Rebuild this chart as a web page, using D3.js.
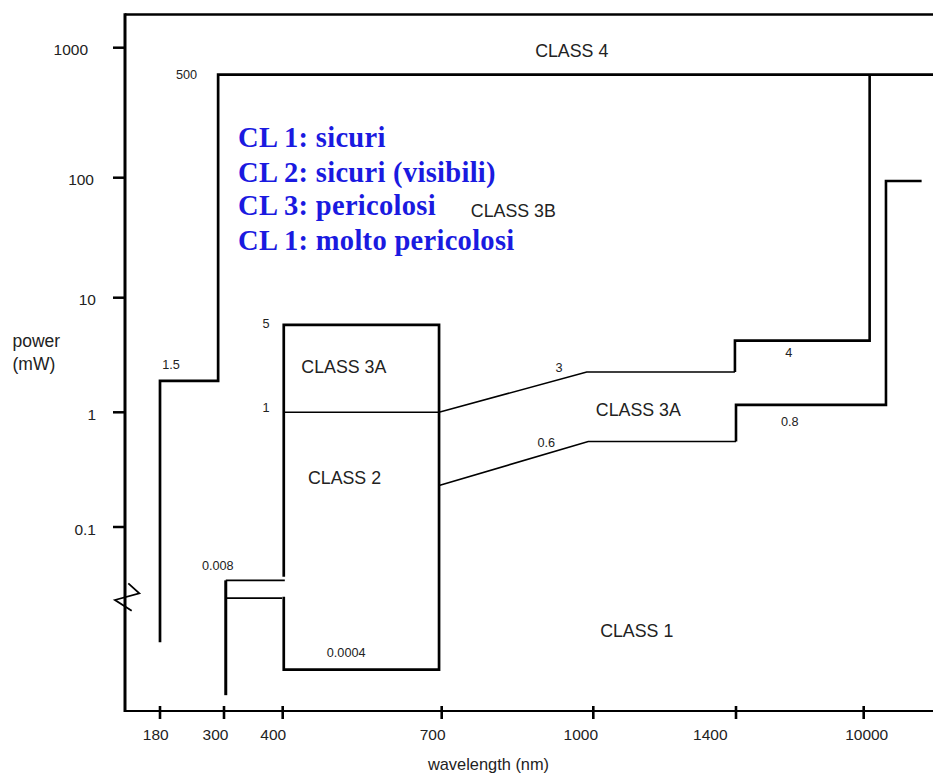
<!DOCTYPE html>
<html>
<head>
<meta charset="utf-8">
<script src="https://cdn.jsdelivr.net/npm/d3@7"></script>
<style>
  html, body { margin: 0; padding: 0; background: #fff; }
  svg { display: block; }
</style>
</head>
<body>
<script>
// ---------------- DATA ----------------
// axis ticks
const wavelengthTicks = [180, 300, 400, 700, 1000, 1400, 10000];   // nm
const powerTicks = [1000, 100, 10, 1, 0.1];                        // mW
const powerTickLabels = ["1000", "100", "10", "1", "0.1"];
const powerTop = 1800;          // top of the plotted range (mW)
const powerBottom = 0.0001;     // bottom of the plotted range (mW, below axis break)

// class boundary lines: [wavelength nm, power mW]
const uvEdge        = [[180, 0.001], [180, 1.88], [289, 1.88], [289, 620], [15000, 620]];
const uvLowVertical = [[303, 0.00017], [303, 0.008]];
const uvLowUpper    = [[303, 0.008], [404, 0.008]];
const uvLowLower    = [[303, 0.0044], [399, 0.0044]];
const visibleBox    = [[402, 0.009], [402, 5.8], [695, 5.8], [695, 0.0004], [402, 0.0004], [402, 0.0046]];
const class2Top     = [[402, 1], [695, 1], [987, 2.25], [1397, 2.25]];
const class3bLower  = [[1397, 2.25], [1397, 4.22], [10400, 4.22], [10400, 620]];
const class1Top     = [[695, 0.23], [990, 0.556], [1400, 0.556]];
const class1TopIR   = [[1400, 0.556], [1400, 1.16], [11500, 1.16], [11500, 94], [13900, 94]];

// value annotations
const limitLabels = ["500", "1.5", "5", "1", "0.008", "0.0004", "3", "0.6", "4", "0.8"];
// class names
const classLabels = ["CLASS 4", "CLASS 3B", "CLASS 3A", "CLASS 2", "CLASS 3A", "CLASS 1"];
// legend lines
const legendLines = ["CL 1: sicuri", "CL 2: sicuri (visibili)", "CL 3: pericolosi", "CL 1: molto pericolosi"];

// ---------------- LAYOUT ----------------
const W = 933, H = 776;
const axisLeft = 125, axisRight = 933;
const xTickPx = [160, 224, 282.7, 441.7, 593.3, 736, 863.7];
const yTickPx = [711, 573.7, 527, 412.3, 297.7, 177.7, 47.7];
const xLabelShift = [-4.2, -8.5, -9.4, -9, -12.5, -25.7, 3];
const yLabelShift = [-8, -2, 0, 0, 0];
const limitLabelPos = [[186.5, 79], [171, 369], [266, 328], [266, 412], [217.8, 570],
                       [346.2, 657], [559, 372], [546.2, 447], [788.8, 357], [789.7, 426]];
const classLabelPos = [[571.7, 57.3], [513.3, 217], [343.8, 373], [344.5, 484], [638.3, 416], [636.7, 637]];
const legendBaselines = [146.7, 181.7, 215, 250];

const sans = "'Liberation Sans', Arial, Helvetica, sans-serif";
const serif = "'Liberation Serif', 'Times New Roman', serif";
const textCol = "#222";

// ---------------- SCALES ----------------
const x = d3.scaleLinear().domain(wavelengthTicks).range(xTickPx);
const y = d3.scaleLog()
  .domain([powerBottom, 0.01, 0.1, 1, 10, 100, 1000])
  .range(yTickPx);

const svg = d3.select("body").append("svg")
  .attr("width", W).attr("height", H)
  .style("background", "#fff");

const line = d3.line().x(d => x(d[0])).y(d => y(d[1]));

// ---------------- FRAME / AXES ----------------
const yTopPx = y(powerTop), yBotPx = y(powerBottom);
svg.append("line").attr("x1", axisLeft).attr("x2", axisRight)
  .attr("y1", yTopPx).attr("y2", yTopPx)
  .attr("stroke", "#000").attr("stroke-width", 2.7);
svg.append("line").attr("x1", axisLeft).attr("x2", axisLeft)
  .attr("y1", yTopPx - 1.3).attr("y2", yBotPx + 1)
  .attr("stroke", "#000").attr("stroke-width", 3);
svg.append("line").attr("x1", axisLeft).attr("x2", axisRight)
  .attr("y1", yBotPx).attr("y2", yBotPx)
  .attr("stroke", "#000").attr("stroke-width", 2.2);

// y ticks
svg.append("g").selectAll("line").data(powerTicks).join("line")
  .attr("x1", axisLeft - 12).attr("x2", axisLeft)
  .attr("y1", d => y(d)).attr("y2", d => y(d))
  .attr("stroke", "#000").attr("stroke-width", 2.5);
svg.append("g").selectAll("text").data(powerTicks).join("text")
  .attr("x", (d, i) => 96 + yLabelShift[i])
  .attr("y", d => y(d) + 7.5)
  .attr("text-anchor", "end")
  .attr("font-family", sans).attr("font-size", 15.5).attr("fill", textCol)
  .text((d, i) => powerTickLabels[i]);

// x ticks
svg.append("g").selectAll("line").data(wavelengthTicks).join("line")
  .attr("x1", d => x(d)).attr("x2", d => x(d))
  .attr("y1", yBotPx - 5).attr("y2", yBotPx + 8)
  .attr("stroke", "#000").attr("stroke-width", 2.6);
svg.append("g").selectAll("text").data(wavelengthTicks).join("text")
  .attr("x", (d, i) => x(d) + xLabelShift[i])
  .attr("y", 740)
  .attr("text-anchor", "middle")
  .attr("font-family", sans).attr("font-size", 15.5).attr("fill", textCol)
  .text(d => String(d));

// axis titles
svg.append("text").attr("x", 488.5).attr("y", 770).attr("text-anchor", "middle")
  .attr("font-family", sans).attr("font-size", 16.4).attr("fill", textCol)
  .text("wavelength (nm)");
svg.append("text").attr("x", 12.5).attr("y", 346.5)
  .attr("font-family", sans).attr("font-size", 17.5).attr("fill", textCol)
  .text("power");
svg.append("text").attr("x", 12.5).attr("y", 370)
  .attr("font-family", sans).attr("font-size", 17.5).attr("fill", textCol)
  .text("(mW)");

// axis break mark
svg.append("polyline")
  .attr("points", "128.3,583.3 139.3,593.3 115,600 131.7,610.7")
  .attr("fill", "none").attr("stroke", "#000").attr("stroke-width", 1.8);

// ---------------- BOUNDARIES ----------------
const paths = [
  { d: uvEdge, w: 2.7 },
  { d: uvLowVertical, w: 3 },
  { d: uvLowUpper, w: 1.8 },
  { d: uvLowLower, w: 1.8 },
  { d: visibleBox, w: 2.7 },
  { d: class2Top, w: 1.6 },
  { d: class3bLower, w: 2.6 },
  { d: class1Top, w: 1.6 },
  { d: class1TopIR, w: 2.6 }
];
svg.append("g").selectAll("path").data(paths).join("path")
  .attr("d", p => line(p.d))
  .attr("fill", "none").attr("stroke", "#000")
  .attr("stroke-width", p => p.w)
  .attr("stroke-linejoin", "miter").attr("stroke-linecap", "butt");

// ---------------- LABELS ----------------
svg.append("g").selectAll("text").data(limitLabels).join("text")
  .attr("x", (d, i) => limitLabelPos[i][0])
  .attr("y", (d, i) => limitLabelPos[i][1])
  .attr("text-anchor", "middle")
  .attr("font-family", sans).attr("font-size", 12.7).attr("fill", textCol)
  .text(d => d);

svg.append("g").selectAll("text").data(classLabels).join("text")
  .attr("x", (d, i) => classLabelPos[i][0])
  .attr("y", (d, i) => classLabelPos[i][1])
  .attr("text-anchor", "middle")
  .attr("font-family", sans).attr("font-size", 17.8).attr("fill", textCol)
  .text(d => d);

svg.append("g").selectAll("text").data(legendLines).join("text")
  .attr("x", 238)
  .attr("y", (d, i) => legendBaselines[i])
  .attr("font-family", serif).attr("font-weight", "bold")
  .attr("font-size", 28.5).attr("letter-spacing", 0.3).attr("fill", "#1a1ae0")
  .text(d => d);
</script>
</body>
</html>
